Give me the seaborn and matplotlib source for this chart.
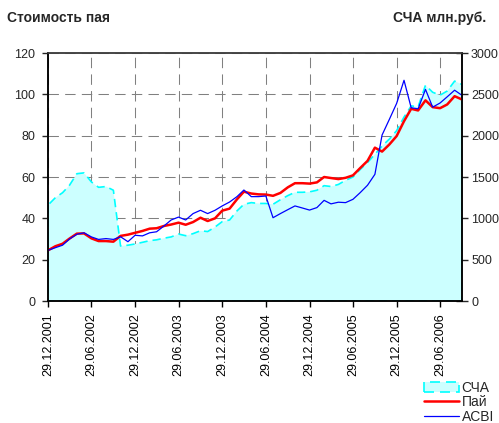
import numpy as np
import pandas as pd
import seaborn as sns
import matplotlib.pyplot as plt
import matplotlib.dates as mdates

# monthly observations, 29.12.2001 .. 29.09.2006
start = pd.Timestamp('2001-12-29')
dates = pd.DatetimeIndex([start + pd.DateOffset(months=i) for i in range(58)])

# unit price (left axis)
pai = [24.5, 26.5, 27.7, 30.2, 32.6, 32.7, 30.3, 29.0, 29.0, 28.7,
       31.5, 32.1, 33.0, 33.9, 35.0, 35.2, 36.3, 37.0, 37.9, 36.9,
       38.2, 40.3, 38.7, 40.0, 43.7, 44.7, 49.2, 52.9, 52.0, 51.6,
       51.5, 50.9, 52.3, 55.0, 57.0, 57.0, 56.8, 57.4, 60.0, 59.5,
       59.0, 59.6, 60.8, 64.3, 67.8, 74.2, 72.3, 75.8, 79.8, 87.0,
       93.0, 92.2, 97.1, 93.8, 93.3, 95.1, 99.1, 97.5]

# index (left axis)
acbi = [24.5, 25.8, 27.0, 30.0, 32.3, 33.0, 31.0, 29.8, 30.2, 29.8,
        31.1, 28.7, 31.8, 31.5, 33.0, 33.5, 36.3, 39.2, 40.6, 39.2,
        42.3, 43.9, 42.3, 43.9, 46.0, 47.9, 50.5, 53.7, 50.5, 50.5,
        50.8, 40.3, 42.3, 44.2, 46.0, 45.0, 44.0, 45.2, 48.7, 47.0,
        47.8, 47.6, 49.2, 52.4, 56.0, 61.3, 80.3, 88.0, 95.6, 106.8,
        93.5, 93.0, 102.4, 93.8, 95.8, 98.8, 102.0, 99.5]

# net assets, mln rub (right axis)
scha = [1160, 1250, 1310, 1400, 1540, 1550, 1440, 1375, 1385, 1340,
        665, 675, 690, 710, 730, 740, 760, 775, 810, 790,
        815, 850, 840, 895, 960, 980, 1090, 1170, 1190, 1180,
        1180, 1170, 1225, 1275, 1315, 1315, 1320, 1340, 1395, 1385,
        1410, 1460, 1500, 1590, 1675, 1775, 1875, 1960, 2060, 2225,
        2360, 2350, 2610, 2525, 2490, 2540, 2660, 2620]

df = pd.DataFrame({'date': dates, 'pai': pai, 'acbi': acbi, 'scha': scha})

sns.set_style('white')
plt.rcParams['font.family'] = ['Liberation Sans', 'DejaVu Sans']

fig = plt.figure(figsize=(4.99, 4.23), dpi=100)
ax_r = fig.add_axes([48 / 499, 1 - 301 / 423, 414 / 499, 248 / 423])
ax_l = ax_r.twinx()
ax_r.set_zorder(1)
ax_l.set_zorder(2)
ax_l.patch.set_visible(False)

# net assets area on the right scale, grid underneath it
ax_r.set_axisbelow(True)
ax_r.grid(True, color='#808080', linewidth=0.75, linestyle=(0, (10, 6)))
ax_r.fill_between(df['date'], 0, df['scha'], facecolor='#CCFFFF',
                  edgecolor='#00FFFF', linewidth=1.2, linestyle=(0, (5, 3)),
                  label='СЧА', zorder=2)

sns.lineplot(data=df, x='date', y='pai', ax=ax_l, color='#FF0000',
             linewidth=1.8, label='Пай', legend=False)
sns.lineplot(data=df, x='date', y='acbi', ax=ax_l, color='#0000FF',
             linewidth=0.9, label='ACBI', legend=False)

ax_r.set_xlim(dates[0], dates[-1])
ax_r.set_ylim(0, 3000)
ax_l.set_ylim(0, 120)
ax_r.set_yticks(range(0, 3001, 500))
ax_l.set_yticks(range(0, 121, 20))
ax_r.set_xticks(dates[::6])
ax_r.xaxis.set_major_formatter(mdates.DateFormatter('%d.%m.%Y'))
ax_r.set_xlabel('')
ax_l.set_xlabel('')
ax_l.set_ylabel('')
ax_r.set_ylabel('')

ax_r.yaxis.tick_right()
ax_l.yaxis.tick_left()
ax_r.tick_params(axis='x', direction='out', length=4, width=1, pad=5,
                 labelrotation=90, labelsize=9, colors='black', bottom=True)
ax_r.tick_params(axis='y', direction='inout', length=9, width=1, pad=2,
                 labelsize=9, right=True, left=False)
ax_l.tick_params(axis='y', direction='out', length=4, width=1, pad=5,
                 labelsize=9, left=True, right=False)

for a in (ax_r, ax_l):
    for s in ('left', 'bottom', 'right'):
        a.spines[s].set_color('black')
        a.spines[s].set_linewidth(1.1)
    a.spines['top'].set_color('#404040')
    a.spines['top'].set_linewidth(1.1)

fig.text(7 / 499, 1 - 22 / 423, 'Стоимость пая', fontsize=10,
         fontweight='bold', ha='left', va='baseline')
fig.text(486 / 499, 1 - 22 / 423, 'СЧА млн.руб.', fontsize=10,
         fontweight='bold', ha='right', va='baseline')

h1, l1 = ax_r.get_legend_handles_labels()
h2, l2 = ax_l.get_legend_handles_labels()
fig.legend(h1 + h2, l1 + l2, loc='upper left',
           bbox_to_anchor=(424 / 499, 1 - 381 / 423), frameon=False,
           fontsize=10, handlelength=2.5, handletextpad=0.2,
           labelspacing=0.02, borderpad=0, borderaxespad=0)

fig.savefig('out.png', dpi=100)
